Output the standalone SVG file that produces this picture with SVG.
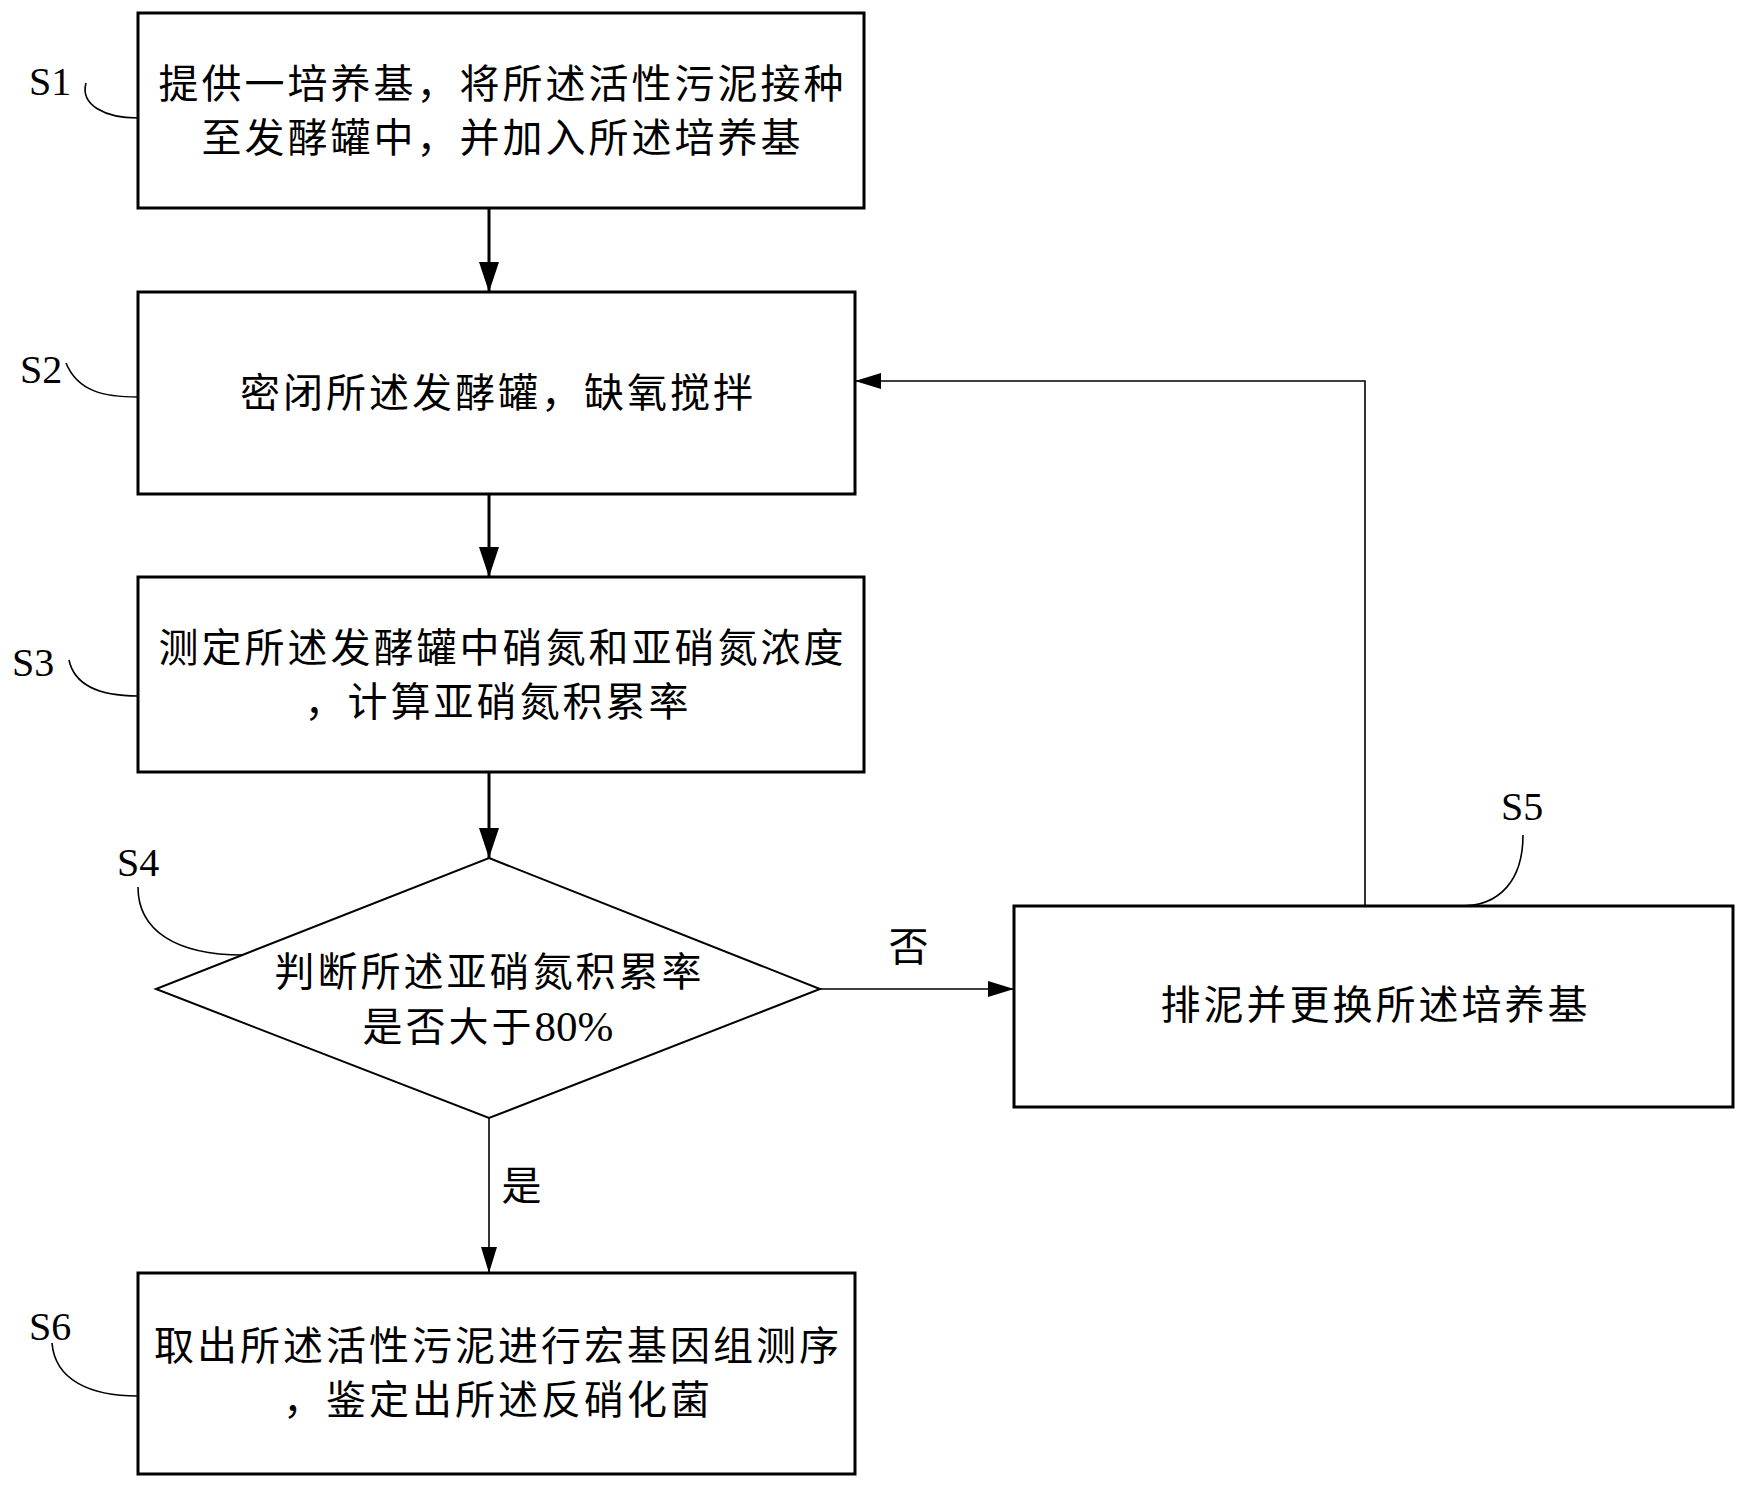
<svg xmlns="http://www.w3.org/2000/svg" width="1746" height="1489" viewBox="0 0 1746 1489">
<style>
.box{fill:#fff;stroke:#000;stroke-width:3}
.dia{fill:#fff;stroke:#000;stroke-width:2}
.t{font-family:"Liberation Serif","Noto Sans CJK SC",serif;font-size:40px;letter-spacing:3px;fill:#000;text-anchor:middle}
.lat{font-family:"Liberation Serif",serif;font-size:43px;letter-spacing:0px}
.lab{font-family:"Liberation Serif","Noto Sans CJK SC",serif;font-size:40px;fill:#000}
.lead{fill:none;stroke:#000;stroke-width:1.6}
.thick{fill:none;stroke:#000;stroke-width:3}
.thin{fill:none;stroke:#000;stroke-width:1.6}
</style>
<defs>
<marker id="ah" markerUnits="userSpaceOnUse" viewBox="0 0 30 20" markerWidth="30" markerHeight="20" refX="30" refY="10" orient="auto"><path d="M0,0 L30,10 L0,20 z" fill="#000"/></marker>
<marker id="as" markerUnits="userSpaceOnUse" viewBox="0 0 26 16" markerWidth="26" markerHeight="16" refX="26" refY="8" orient="auto"><path d="M0,0 L26,8 L0,16 z" fill="#000"/></marker>
</defs>
<rect width="1746" height="1489" fill="#fff"/>
<g id="connectors">
<path class="thick" d="M489,208 V292" marker-end="url(#ah)"/>
<path class="thick" d="M489,494 V577" marker-end="url(#ah)"/>
<path class="thick" d="M489,772 V858" marker-end="url(#ah)"/>
<path class="thin" d="M820,989 H1014" marker-end="url(#as)"/>
<path class="thin" d="M1365,906 V381 H855" marker-end="url(#as)"/>
<path class="thin" d="M489,1118 V1273" marker-end="url(#as)"/>
<text class="t" x="910" y="961">否</text>
<text class="t" x="523" y="1200">是</text>
</g>
<g id="S1">
<rect class="box" x="138" y="13" width="726" height="195"/>
<text class="t" x="502.5" y="98">提供一培养基，将所述活性污泥接种</text>
<text class="t" x="502.5" y="152">至发酵罐中，并加入所述培养基</text>
<path class="lead" d="M86,83 C80,105 105,118 138,118"/>
<text class="lab" x="29" y="95">S1</text>
</g>
<g id="S2">
<rect class="box" x="138" y="292" width="717" height="202"/>
<text class="t" x="498" y="407">密闭所述发酵罐，缺氧搅拌</text>
<path class="lead" d="M66,363 C78,392 105,397 138,397"/>
<text class="lab" x="20" y="383">S2</text>
</g>
<g id="S3">
<rect class="box" x="138" y="577" width="726" height="195"/>
<text class="t" x="502.5" y="662">测定所述发酵罐中硝氮和亚硝氮浓度</text>
<text class="t" x="498" y="716">，计算亚硝氮积累率</text>
<path class="lead" d="M69,660 C75,688 105,696 138,696"/>
<text class="lab" x="12" y="676">S3</text>
</g>
<g id="S4">
<polygon class="dia" points="489,858 820,989 489,1118 156,989"/>
<text class="t" x="489.5" y="986">判断所述亚硝氮积累率</text>
<text class="t" x="488" y="1041">是否大于<tspan class="lat">80%</tspan></text>
<path class="lead" d="M138,887 C138,930 175,955 243,955"/>
<text class="lab" x="117" y="876">S4</text>
</g>
<g id="S5">
<rect class="box" x="1014" y="906" width="719" height="201"/>
<text class="t" x="1375.5" y="1019">排泥并更换所述培养基</text>
<path class="lead" d="M1523,835 C1523,880 1500,906 1461,906"/>
<text class="lab" x="1501" y="820">S5</text>
</g>
<g id="S6">
<rect class="box" x="138" y="1273" width="717" height="201"/>
<text class="t" x="498" y="1360">取出所述活性污泥进行宏基因组测序</text>
<text class="t" x="498" y="1414">，鉴定出所述反硝化菌</text>
<path class="lead" d="M52,1343 C55,1380 90,1396 138,1396"/>
<text class="lab" x="29" y="1340">S6</text>
</g>
</svg>
